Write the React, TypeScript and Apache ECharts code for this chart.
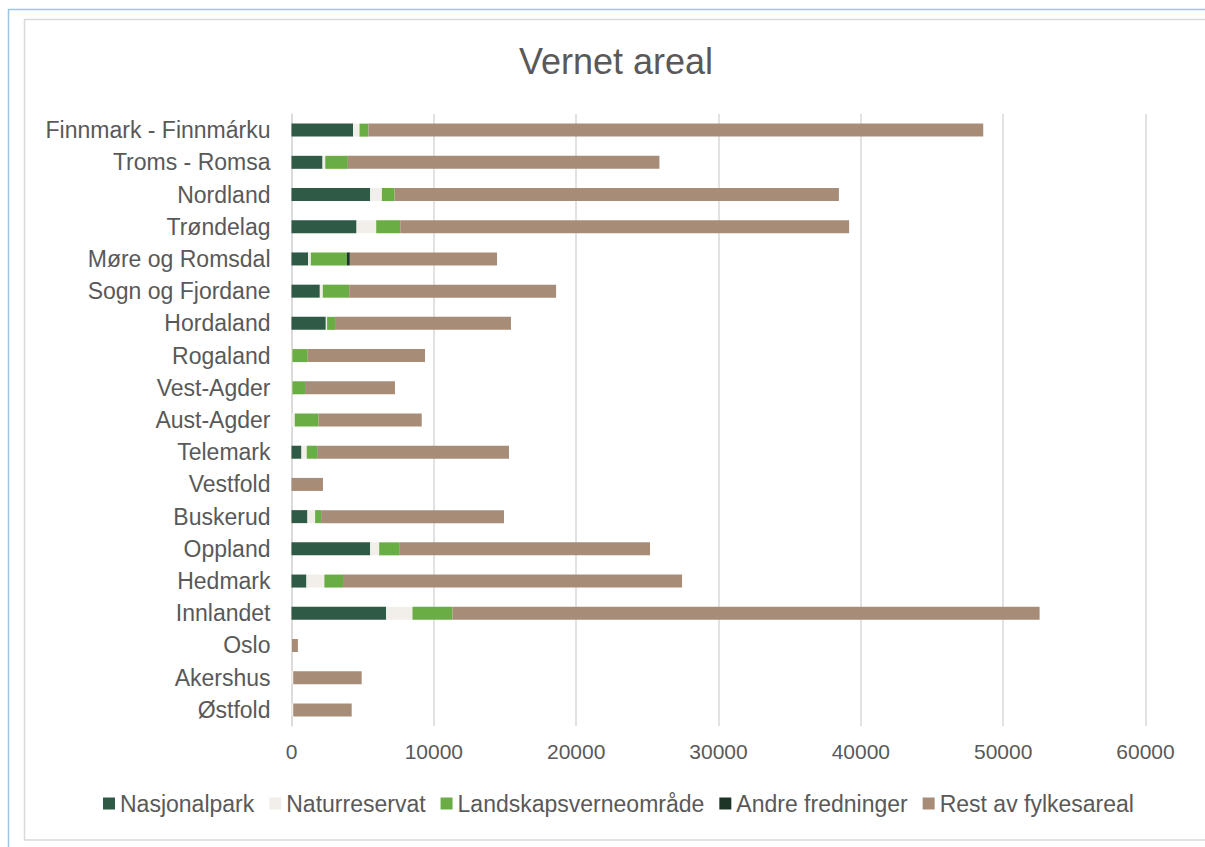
import React, { useEffect, useRef } from "react";
import * as echarts from "echarts";

const categories = [
  "Finnmark - Finnmárku", "Troms - Romsa", "Nordland", "Trøndelag", "Møre og Romsdal",
  "Sogn og Fjordane", "Hordaland", "Rogaland", "Vest-Agder", "Aust-Agder", "Telemark",
  "Vestfold", "Buskerud", "Oppland", "Hedmark", "Innlandet", "Oslo", "Akershus", "Østfold",
];
const nasjonalpark = [4330, 2180, 5530, 4570, 1170, 1990, 2410, 0, 0, 0, 700, 0, 1120, 5530, 1050, 6650, 0, 0, 0];
const naturreservat = [450, 190, 820, 1380, 190, 210, 90, 60, 60, 230, 370, 0, 540, 630, 1260, 1850, 30, 120, 120];
const landskapsvern = [630, 1590, 890, 1690, 2530, 1850, 560, 1080, 890, 1660, 730, 0, 420, 1450, 1310, 2810, 0, 0, 0];
const andreFredninger = [0, 0, 0, 0, 210, 0, 0, 0, 0, 0, 0, 0, 0, 0, 0, 0, 0, 0, 0];
const restFylkesareal = [43190, 21890, 31220, 31540, 10340, 14540, 12360, 8240, 6320, 7260, 13480, 2210, 12850, 17580, 23820, 41250, 420, 4810, 4110];

const seriesNames = ["Nasjonalpark", "Naturreservat", "Landskapsverneområde", "Andre fredninger", "Rest av fylkesareal"];
const seriesData = [nasjonalpark, naturreservat, landskapsvern, andreFredninger, restFylkesareal];
const colors = ["#2f5a46", "#f2efeb", "#6aad45", "#1c3526", "#a78d78"];

export default function App() {
  const ref = useRef<HTMLDivElement>(null);
  useEffect(() => {
    if (!ref.current) return;
    const chart = echarts.init(ref.current, null, { renderer: "svg" });
    const font = "'Liberation Sans', Arial, sans-serif";
    chart.setOption({
      animation: false,
      backgroundColor: "#ffffff",
      textStyle: { fontFamily: font },
      title: {
        text: "Vernet areal",
        left: 611,
        textAlign: "center",
        top: 38,
        textStyle: { fontSize: 36, fontWeight: "normal", color: "#595959", fontFamily: font },
      },
      graphic: [
        { type: "line", shape: { x1: 8, y1: 9.5, x2: 1205, y2: 9.5 }, style: { stroke: "#9dc3e6", lineWidth: 1.5 } },
        { type: "line", shape: { x1: 8.5, y1: 9, x2: 8.5, y2: 847 }, style: { stroke: "#9dc3e6", lineWidth: 1.5 } },
        { type: "rect", shape: { x: 24.5, y: 19.5, width: 1190, height: 820.5 }, style: { fill: "none", stroke: "#d9d9d9", lineWidth: 1.5 } },
      ],
      legend: {
        data: seriesNames,
        left: 98,
        right: 0,
        top: 787,
        orient: "horizontal",
        itemWidth: 12,
        itemHeight: 12,
        itemGap: 15,
        textStyle: { fontSize: 23, color: "#595959", fontFamily: font },
        icon: "rect",
        selectedMode: false,
      },
      grid: { left: 291.5, right: 59.5, top: 114, bottom: 121, containLabel: false },
      xAxis: {
        type: "value",
        min: 0,
        max: 60000,
        interval: 10000,
        axisLine: { show: false },
        axisTick: { show: false },
        axisLabel: { fontSize: 21, color: "#595959", margin: 15, fontFamily: font, formatter: (v: number) => String(v) },
        splitLine: { show: true, lineStyle: { color: "#d9d9d9", width: 1.5 } },
      },
      yAxis: {
        type: "category",
        data: categories,
        inverse: true,
        axisLine: { show: true, lineStyle: { color: "#d9d9d9", width: 1.5 } },
        axisTick: { show: false },
        axisLabel: { fontSize: 23, color: "#595959", margin: 21, fontFamily: font },
        splitLine: { show: false },
      },
      series: seriesNames.map((name, i) => ({
        name,
        type: "bar",
        stack: "total",
        data: seriesData[i],
        barWidth: 13,
        itemStyle: { color: colors[i] },
        emphasis: { disabled: true },
      })),
    });
    return () => chart.dispose();
  }, []);
  return (
    <div
      ref={ref}
      style={{ position: "absolute", left: 0, top: 0, width: 1205, height: 847 }}
    />
  );
}
